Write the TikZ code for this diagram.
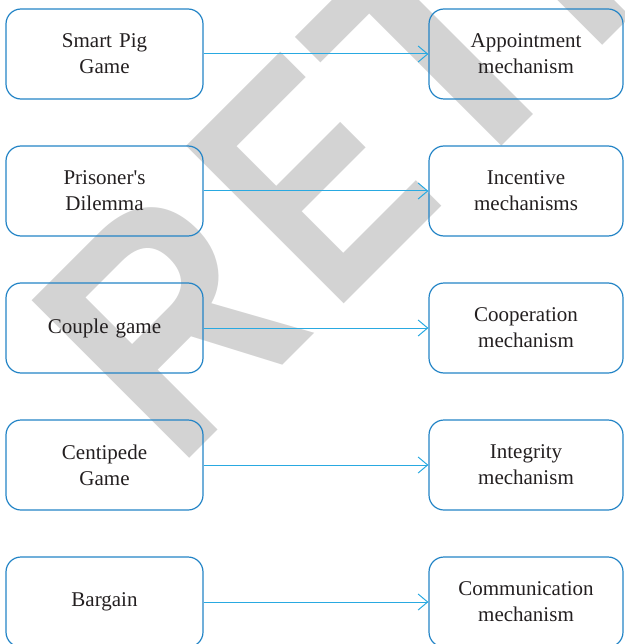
\documentclass[tikz,border=0pt]{standalone}
\usepackage{fontspec}
\setmainfont{Liberation Serif}
\newfontfamily\wmfont{Liberation Sans}
\usetikzlibrary{arrows.meta}
\definecolor{boxblue}{HTML}{2384C6}
\definecolor{arrblue}{HTML}{29A9E1}
\definecolor{wmgray}{HTML}{D3D3D3}
\definecolor{txt}{HTML}{231F20}
\begin{document}
\begin{tikzpicture}[x=1pt,y=-1pt,
  gamebox/.style={draw=boxblue, line width=1.2pt, rounded corners=15pt,
    minimum height=90pt, align=center, text=txt,
    font=\fontsize{21}{26}\selectfont, inner sep=0pt},
  leftbox/.style={gamebox, minimum width=197pt, text width=190pt},
  rightbox/.style={gamebox, minimum width=194pt, text width=190pt},
  link/.style={draw=arrblue, line width=1pt,
    -{Straight Barb[length=9.5pt,width=16pt,line width=1pt]}},
  wmletter/.style={rotate=45, anchor=base west, inner sep=0pt, outer sep=0pt,
    text=wmgray, font=\wmfont\bfseries\fontsize{324}{324}\selectfont}]
\useasboundingbox (0,0) rectangle (624,644);
\clip (0,0) rectangle (624,644);
% watermark
\node[wmletter] (wmR) at (176.2,471.8) {\scalebox{0.86}[1]{R}};
\node[wmletter] (wmE) at (332.5,315.5) {\scalebox{0.76}[1]{E}};
\node[wmletter] (wmT) at (450.6,197.4) {\scalebox{0.96}[1]{T}};
\node[wmletter] (wmRb) at (589.9,58.1) {\scalebox{0.86}[1]{R}};
% boxes
\node[leftbox] (l1) at (104.5,54) {Smart Pig\\Game};
\node[leftbox] (l2) at (104.5,191) {Prisoner\textquotesingle s\\Dilemma};
\node[leftbox] (l3) at (104.5,328) {Couple game};
\node[leftbox] (l4) at (104.5,465) {Centipede\\Game};
\node[leftbox] (l5) at (104.5,602) {Bargain};
\node[rightbox] (r1) at (526,54) {Appointment\\mechanism};
\node[rightbox] (r2) at (526,191) {Incentive\\mechanisms};
\node[rightbox] (r3) at (526,328) {Cooperation\\mechanism};
\node[rightbox] (r4) at (526,465) {Integrity\\mechanism};
\node[rightbox] (r5) at (526,602) {Communication\\mechanism};
\foreach \i in {1,...,5} \draw[link] (l\i.east) -- (r\i.west);
\end{tikzpicture}
\end{document}
